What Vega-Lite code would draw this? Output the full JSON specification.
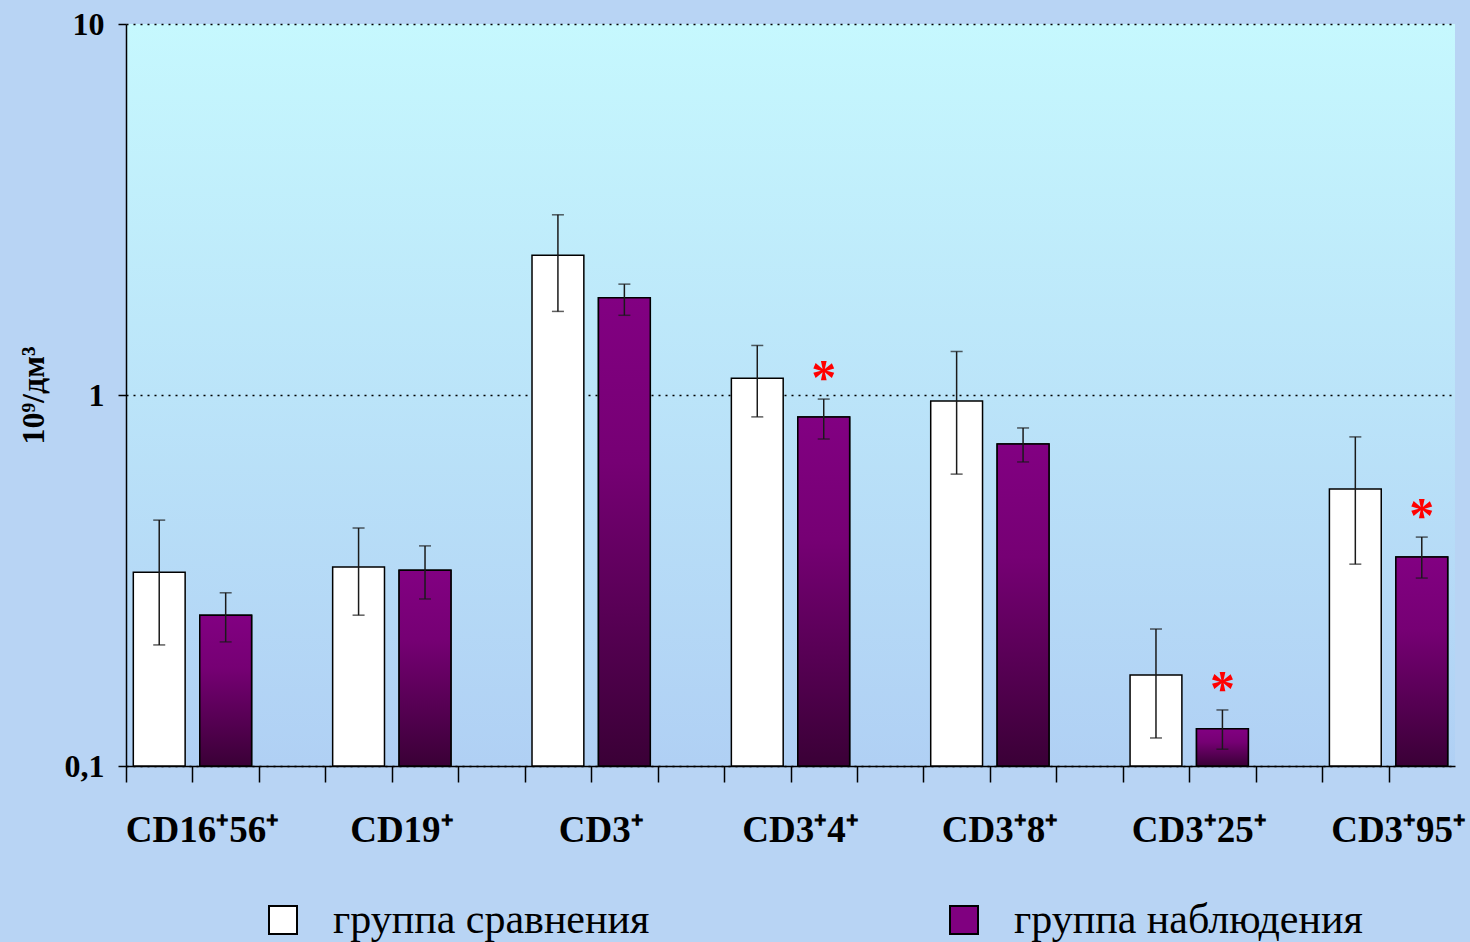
{
  "$schema": "https://vega.github.io/schema/vega-lite/v6.json",
  "width": 1329,
  "height": 742,
  "autosize": {"type": "none"},
  "padding": {"left": 126, "top": 24, "right": 15, "bottom": 176},
  "background": "#b8d4f4",
  "config": {
    "font": "Liberation Serif",
    "view": {
      "stroke": null,
      "fill": {"gradient": "linear", "x1": 0, "y1": 0, "x2": 0, "y2": 1,
        "stops": [{"offset": 0, "color": "#c6f8fe"}, {"offset": 1, "color": "#b0d0f4"}]}
    }
  },
  "data": {"values": [
    {"cat": "CD16⁺56⁺", "grp": "группа сравнения", "value": 0.333, "lo": 0.212, "hi": 0.46, "sig": false},
    {"cat": "CD16⁺56⁺", "grp": "группа наблюдения", "value": 0.255, "lo": 0.216, "hi": 0.293, "sig": false},
    {"cat": "CD19⁺", "grp": "группа сравнения", "value": 0.344, "lo": 0.255, "hi": 0.438, "sig": false},
    {"cat": "CD19⁺", "grp": "группа наблюдения", "value": 0.337, "lo": 0.282, "hi": 0.392, "sig": false},
    {"cat": "CD3⁺", "grp": "группа сравнения", "value": 2.38, "lo": 1.68, "hi": 3.06, "sig": false},
    {"cat": "CD3⁺", "grp": "группа наблюдения", "value": 1.83, "lo": 1.64, "hi": 1.99, "sig": false},
    {"cat": "CD3⁺4⁺", "grp": "группа сравнения", "value": 1.11, "lo": 0.873, "hi": 1.36, "sig": false},
    {"cat": "CD3⁺4⁺", "grp": "группа наблюдения", "value": 0.873, "lo": 0.761, "hi": 0.975, "sig": true},
    {"cat": "CD3⁺8⁺", "grp": "группа сравнения", "value": 0.964, "lo": 0.612, "hi": 1.31, "sig": false},
    {"cat": "CD3⁺8⁺", "grp": "группа наблюдения", "value": 0.738, "lo": 0.66, "hi": 0.815, "sig": false},
    {"cat": "CD3⁺25⁺", "grp": "группа сравнения", "value": 0.176, "lo": 0.119, "hi": 0.234, "sig": false},
    {"cat": "CD3⁺25⁺", "grp": "группа наблюдения", "value": 0.126, "lo": 0.111, "hi": 0.1416, "sig": true},
    {"cat": "CD3⁺95⁺", "grp": "группа сравнения", "value": 0.558, "lo": 0.35, "hi": 0.771, "sig": false},
    {"cat": "CD3⁺95⁺", "grp": "группа наблюдения", "value": 0.366, "lo": 0.321, "hi": 0.414, "sig": true}
  ]},
  "transform": [{"calculate": "datum.cat + '|' + datum.grp", "as": "slot"}],
  "encoding": {
    "x": {
      "field": "slot", "type": "nominal", "title": null,
      "scale": {
        "domain": [
          "CD16⁺56⁺|группа сравнения", "CD16⁺56⁺|группа наблюдения", "CD16⁺56⁺|-",
          "CD19⁺|группа сравнения", "CD19⁺|группа наблюдения", "CD19⁺|-",
          "CD3⁺|группа сравнения", "CD3⁺|группа наблюдения", "CD3⁺|-",
          "CD3⁺4⁺|группа сравнения", "CD3⁺4⁺|группа наблюдения", "CD3⁺4⁺|-",
          "CD3⁺8⁺|группа сравнения", "CD3⁺8⁺|группа наблюдения", "CD3⁺8⁺|-",
          "CD3⁺25⁺|группа сравнения", "CD3⁺25⁺|группа наблюдения", "CD3⁺25⁺|-",
          "CD3⁺95⁺|группа сравнения", "CD3⁺95⁺|группа наблюдения"
        ],
        "paddingInner": 0.22,
        "paddingOuter": 0.11
      },
      "axis": {
        "domainColor": "black", "domainWidth": 1.5,
        "tickColor": "black", "tickWidth": 1.5, "tickSize": 16, "tickOffset": -33.2,
        "labelExpr": "indexof(datum.value, 'сравнения') >= 0 ? split(datum.value, '|')[0] : ''",
        "labelAngle": 0,
        "labelFont": "Liberation Serif", "labelFontSize": 37, "labelFontWeight": "bold",
        "labelColor": "black", "labelPadding": 30, "labelOffset": 76,
        "labelOverlap": false, "labelBound": false
      }
    },
    "y": {
      "field": "value", "type": "quantitative",
      "scale": {"type": "log", "domain": [0.1, 10]},
      "title": "10⁹/дм³",
      "axis": {
        "values": [0.1, 1, 10],
        "labelExpr": "datum.value < 0.5 ? '0,1' : (datum.value < 5 ? '1' : '10')",
        "labelFont": "Liberation Serif", "labelFontSize": 32, "labelFontWeight": "bold",
        "labelColor": "black", "labelPadding": 14,
        "tickColor": "black", "tickWidth": 1.5, "tickSize": 8,
        "domainColor": "black", "domainWidth": 1.5,
        "grid": true, "gridColor": "black", "gridDash": [2, 5], "gridWidth": 1.5,
        "titleFont": "Liberation Serif", "titleFontSize": 32, "titleFontWeight": "bold",
        "titleColor": "black", "titlePadding": 14
      }
    }
  },
  "layer": [
    {
      "mark": {"type": "bar", "stroke": "black", "strokeWidth": 1.5},
      "encoding": {
        "y2": {"datum": 0.1},
        "color": {
          "field": "grp", "type": "nominal",
          "scale": {"domain": ["группа сравнения", "группа наблюдения"], "range": ["white", "#800080"]},
          "legend": {
            "orient": "none", "legendX": 136, "legendY": 875,
            "direction": "horizontal", "title": null, "padding": 0,
            "symbolType": "square", "symbolSize": 784,
            "symbolStrokeColor": "black", "symbolStrokeWidth": 2,
            "labelFont": "Liberation Serif", "labelFontSize": 42, "labelColor": "black",
            "labelOffset": 29, "columnPadding": 293, "labelLimit": 600
          }
        }
      }
    },
    {
      "transform": [{"filter": "datum.grp == 'группа наблюдения'"}],
      "mark": {
        "type": "bar", "stroke": "black", "strokeWidth": 1.5,
        "fill": {"gradient": "linear", "x1": 0, "y1": 0, "x2": 0, "y2": 1,
          "stops": [{"offset": 0, "color": "#820082"}, {"offset": 0.35, "color": "#760074"}, {"offset": 1, "color": "#3a0036"}]}
      },
      "encoding": {
        "y2": {"datum": 0.1}
      }
    },
    {
      "mark": {"type": "rule", "color": "#1a1a1a", "strokeWidth": 1.5},
      "encoding": {
        "y": {"field": "lo", "type": "quantitative"},
        "y2": {"field": "hi"}
      }
    },
    {
      "mark": {"type": "tick", "color": "#1a1a1a", "size": 12, "thickness": 1.5, "orient": "horizontal"},
      "encoding": {"y": {"field": "lo", "type": "quantitative"}}
    },
    {
      "mark": {"type": "tick", "color": "#1a1a1a", "size": 12, "thickness": 1.5, "orient": "horizontal"},
      "encoding": {"y": {"field": "hi", "type": "quantitative"}}
    },
    {
      "transform": [{"filter": "datum.sig"}],
      "mark": {"type": "text", "text": "*", "font": "Liberation Serif", "fontSize": 50, "fontWeight": "bold",
        "fill": "#ff0000", "baseline": "alphabetic", "align": "center", "dy": -5},
      "encoding": {"y": {"field": "hi", "type": "quantitative"}}
    }
  ]
}
